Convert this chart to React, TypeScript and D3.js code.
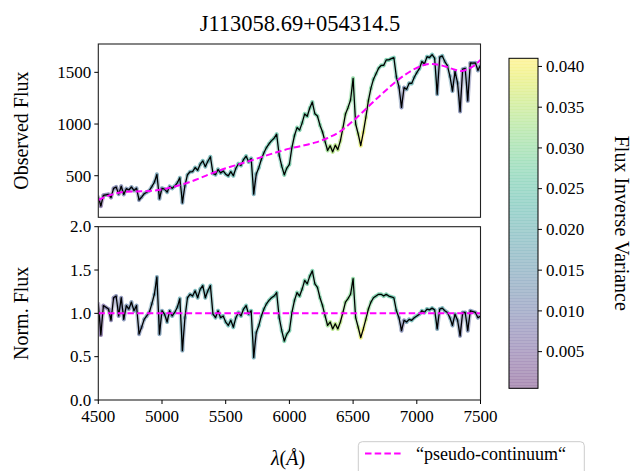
import React from 'react';
import * as d3 from 'd3';

const waveStart = 4500;
const waveStep = 20;

// normalized flux (flux / pseudo-continuum), one value per 20 Å from 4500 to 7500
const normFlux = [
  1.11, 0.75, 1.09, 1.07, 1.05, 0.92, 1.18, 1.2, 0.97, 1.18,
  0.93, 1.09, 1.05, 1.13, 1.03, 1.09, 0.76, 0.84, 0.93, 0.97,
  1.01, 1.11, 1.22, 1.42, 0.76, 1.03, 0.99, 0.9, 1.03, 0.97,
  1.01, 1.07, 1.17, 0.57, 0.95, 1.18, 1.22, 1.2, 1.26, 1.18,
  1.28, 1.32, 1.18, 1.26, 1.32, 0.99, 0.95, 1.03, 0.95, 0.97,
  0.9, 0.86, 0.92, 0.84, 0.95, 1.01, 0.97, 1.05, 1.09, 0.99,
  1.03, 0.49, 0.78, 0.86, 0.97, 1.05, 1.11, 1.15, 1.18, 1.2,
  1.24, 0.95, 0.8, 0.68, 0.76, 0.8, 1.01, 1.15, 1.24, 1.2,
  1.28, 1.38, 1.34, 1.43, 1.49, 1.34, 1.3, 1.18, 1.09, 0.97,
  0.86, 0.9, 0.82, 0.88, 0.82, 0.9, 1.01, 1.13, 1.17, 1.22,
  1.4, 0.95, 0.84, 0.72, 0.82, 0.93, 1.05, 1.13, 1.18, 1.2,
  1.22, 1.22, 1.2, 1.22, 1.2, 1.19, 1.18, 1.03, 0.95, 0.8,
  0.92, 0.9, 0.93, 0.92, 0.95, 0.97, 0.99, 1.03, 1.01, 1.05,
  1.04, 1.06, 1.04, 0.82, 1.05, 1.06, 1.03, 1.01, 0.95, 0.86,
  0.99, 0.92, 0.74, 1.01, 1.01, 0.8, 1.03, 1.02, 1.01, 0.95,
  0.97,
];

// flux inverse variance at the same wavelengths
const ivar = [
  0.006, 0.005, 0.007, 0.008, 0.008, 0.007, 0.009, 0.01, 0.009, 0.01,
  0.011, 0.012, 0.012, 0.013, 0.013, 0.012, 0.01, 0.012, 0.014, 0.015,
  0.015, 0.016, 0.016, 0.015, 0.012, 0.016, 0.017, 0.016, 0.017, 0.017,
  0.018, 0.018, 0.018, 0.012, 0.018, 0.019, 0.019, 0.019, 0.02, 0.019,
  0.02, 0.02, 0.019, 0.02, 0.02, 0.021, 0.02, 0.021, 0.021, 0.021,
  0.022, 0.022, 0.022, 0.021, 0.022, 0.023, 0.022, 0.023, 0.023, 0.023,
  0.022, 0.014, 0.022, 0.023, 0.024, 0.024, 0.025, 0.025, 0.025, 0.025,
  0.025, 0.024, 0.026, 0.027, 0.027, 0.026, 0.027, 0.027, 0.027, 0.027,
  0.027, 0.027, 0.027, 0.027, 0.027, 0.027, 0.028, 0.028, 0.029, 0.03,
  0.033, 0.034, 0.034, 0.035, 0.034, 0.035, 0.032, 0.031, 0.03, 0.03,
  0.029, 0.032, 0.036, 0.041, 0.037, 0.033, 0.03, 0.028, 0.027, 0.027,
  0.027, 0.027, 0.027, 0.026, 0.026, 0.025, 0.025, 0.02, 0.012, 0.008,
  0.012, 0.018, 0.02, 0.021, 0.022, 0.022, 0.022, 0.022, 0.022, 0.022,
  0.021, 0.021, 0.021, 0.01, 0.02, 0.019, 0.018, 0.017, 0.016, 0.012,
  0.015, 0.013, 0.008, 0.014, 0.014, 0.009, 0.013, 0.013, 0.012, 0.012,
  0.012,
];

// pseudo-continuum nodes
const contWave = [4500, 4600, 4700, 4800, 4900, 5000, 5100, 5200, 5300, 5400, 5500, 5600, 5700, 5800, 5900, 6000, 6100, 6200, 6300, 6400, 6500, 6600, 6700, 6800, 6900, 7000, 7100, 7200, 7300, 7350, 7400, 7450, 7500];
const contFlux = [265, 315, 343, 348, 352, 368, 396, 432, 478, 528, 572, 610, 648, 688, 727, 762, 790, 820, 865, 930, 1030, 1145, 1262, 1372, 1470, 1543, 1580, 1565, 1525, 1512, 1530, 1565, 1620];

const xTicks = [4500, 5000, 5500, 6000, 6500, 7000, 7500];
const topTicks = [500, 1000, 1500];
const botTicks = [0, 0.5, 1.0, 1.5, 2.0];
const cbTicks = [0.005, 0.01, 0.015, 0.02, 0.025, 0.03, 0.035, 0.04];

const FONT = "'Liberation Serif', 'DejaVu Serif', serif";
const MAGENTA = '#ff00ff';

export default function App() {
  const W = 636, H = 471;
  const L = 98.3, R = 480.5;
  const topY0 = 44, topY1 = 217.3;
  const botY0 = 226.7, botY1 = 400;

  const x = d3.scaleLinear().domain([4500, 7500]).range([L, R]);
  const yTop = d3.scaleLinear().domain([98, 1774]).range([topY1, topY0]);
  const yBot = d3.scaleLinear().domain([0, 2]).range([botY1, botY0]);
  const cont = d3.scaleLinear().domain(contWave).range(contFlux);

  const wave = normFlux.map((_, i) => waveStart + i * waveStep);
  const flux = normFlux.map((n, i) => n * cont(wave[i]));

  const cmin = 0.0005, cmax = 0.041;
  const cnorm = d3.scaleLinear().domain([cmin, cmax]).range([0, 1]).clamp(true);
  const color = (v: number) => d3.interpolateViridis(cnorm(v));

  const topLine = d3.line<number>().x((_, i) => x(wave[i])).y((d) => yTop(d))(flux) || '';
  const botLine = d3.line<number>().x((_, i) => x(wave[i])).y((d) => yBot(d))(normFlux) || '';
  const contLine = d3.line<number>().x((_, i) => x(contWave[i])).y((d) => yTop(d)).curve(d3.curveMonotoneX)(contFlux) || '';
  const contNormLine = d3.line<number>().x((d) => x(d)).y(() => yBot(1))(contWave) || '';

  const cbX0 = 509, cbX1 = 538, cbY0 = 58.3, cbY1 = 388.3;
  const cbScale = d3.scaleLinear().domain([cmin, cmax]).range([cbY1, cbY0]);
  const nBands = 110;
  const bands = d3.range(nBands).map((k) => {
    const v0 = cmin + (k / nBands) * (cmax - cmin);
    const v1 = cmin + ((k + 1) / nBands) * (cmax - cmin);
    return { y: cbScale(v1), h: cbScale(v0) - cbScale(v1) + 0.3, c: color((v0 + v1) / 2) };
  });

  const halo = (ys: number[], yS: (v: number) => number, key: string) =>
    ys.slice(0, -1).map((v, i) => (
      <line
        key={key + i}
        x1={x(wave[i])}
        y1={yS(v)}
        x2={x(wave[i + 1])}
        y2={yS(ys[i + 1])}
        stroke={color(ivar[i])}
        strokeOpacity={0.35}
        strokeWidth={4}
        strokeLinecap="round"
      />
    ));

  const tickFont = 17;

  return (
    <svg width={W} height={H} style={{ position: 'absolute', left: 0, top: 0, background: '#fff' }} fontFamily={FONT}>
      <rect x={0} y={0} width={W} height={H} fill="#fff" />
      <defs>
        <clipPath id="clipTop"><rect x={L} y={topY0} width={R - L} height={topY1 - topY0} /></clipPath>
        <clipPath id="clipBot"><rect x={L} y={botY0} width={R - L} height={botY1 - botY0} /></clipPath>
      </defs>

      {/* title */}
      <text x={300} y={31} textAnchor="middle" fontSize={22.5} fill="#000">J113058.69+054314.5</text>

      {/* top panel */}
      <g clipPath="url(#clipTop)">
        {halo(flux, yTop, 't')}
        <path d={topLine} fill="none" stroke="#000" strokeWidth={1.3} strokeLinejoin="round" />
        <path d={contLine} fill="none" stroke={MAGENTA} strokeWidth={2} strokeDasharray="6.5,3.2" />
      </g>
      <rect x={L} y={topY0} width={R - L} height={topY1 - topY0} fill="none" stroke="#222" strokeWidth={1.1} />
      {topTicks.map((t) => (
        <g key={'tt' + t}>
          <line x1={L - 4} x2={L} y1={yTop(t)} y2={yTop(t)} stroke="#000" strokeWidth={1} />
          <text x={L - 7} y={yTop(t)} dy="0.34em" textAnchor="end" fontSize={tickFont}>{t}</text>
        </g>
      ))}
      <text transform={`translate(28,${(topY0 + topY1) / 2}) rotate(-90)`} textAnchor="middle" fontSize={20}>Observed Flux</text>

      {/* bottom panel */}
      <g clipPath="url(#clipBot)">
        {halo(normFlux, yBot, 'b')}
        <path d={botLine} fill="none" stroke="#000" strokeWidth={1.3} strokeLinejoin="round" />
        <path d={contNormLine} fill="none" stroke={MAGENTA} strokeWidth={2} strokeDasharray="6.5,3.2" />
      </g>
      <rect x={L} y={botY0} width={R - L} height={botY1 - botY0} fill="none" stroke="#222" strokeWidth={1.1} />
      {botTicks.map((t) => (
        <g key={'bt' + t}>
          <line x1={L - 4} x2={L} y1={yBot(t)} y2={yBot(t)} stroke="#000" strokeWidth={1} />
          <text x={L - 7} y={yBot(t)} dy="0.34em" textAnchor="end" fontSize={tickFont}>{t.toFixed(1)}</text>
        </g>
      ))}
      {xTicks.map((t) => (
        <g key={'xt' + t}>
          <line x1={x(t)} x2={x(t)} y1={botY1} y2={botY1 + 4} stroke="#000" strokeWidth={1} />
          <text x={x(t)} y={421.5} textAnchor="middle" fontSize={tickFont}>{t}</text>
        </g>
      ))}
      <text transform={`translate(28,${(botY0 + botY1) / 2}) rotate(-90)`} textAnchor="middle" fontSize={20}>Norm. Flux</text>

      {/* x label */}
      <text x={288} y={465} textAnchor="middle" fontSize={20}>
        <tspan fontStyle="italic">λ</tspan>
        <tspan>(</tspan>
        <tspan fontStyle="italic">Å</tspan>
        <tspan>)</tspan>
      </text>

      {/* legend */}
      <rect x={358.3} y={441.7} width={226} height={40} rx={4} ry={4} fill="#fff" stroke="#cccccc" strokeWidth={1} />
      <line x1={365} x2={403} y1={453.5} y2={453.5} stroke={MAGENTA} strokeWidth={2} strokeDasharray="6.5,3.2" />
      <text x={416} y={460} fontSize={18}>“pseudo-continuum“</text>

      {/* colorbar */}
      {bands.map((b, i) => (
        <rect key={'cb' + i} x={cbX0} y={b.y} width={cbX1 - cbX0} height={b.h} fill={b.c} fillOpacity={0.4} />
      ))}
      <rect x={cbX0} y={cbY0} width={cbX1 - cbX0} height={cbY1 - cbY0} fill="none" stroke="#000" strokeWidth={1} />
      {cbTicks.map((t) => (
        <g key={'ct' + t}>
          <line x1={cbX1} x2={cbX1 + 4} y1={cbScale(t)} y2={cbScale(t)} stroke="#000" strokeWidth={1} />
          <text x={cbX1 + 8} y={cbScale(t)} dy="0.34em" fontSize={tickFont}>{t.toFixed(3)}</text>
        </g>
      ))}
      <text transform={`translate(615,${(cbY0 + cbY1) / 2}) rotate(90)`} textAnchor="middle" fontSize={20}>Flux Inverse Variance</text>
    </svg>
  );
}
